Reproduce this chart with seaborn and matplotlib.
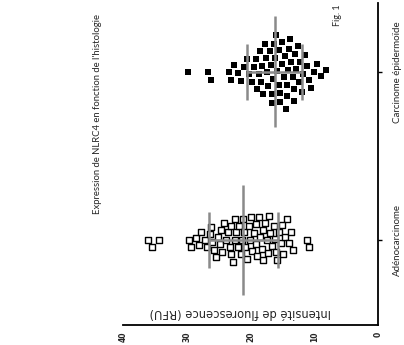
import pandas as pd
import matplotlib.pyplot as plt
import seaborn as sns
import numpy as np

categories = ['Carcinome épidermoïde', 'Adénocarcinome']
adeno = [36.1, 35.5, 34.3,
         29.6, 29.3, 28.5, 28.1, 27.7, 27.2, 26.8, 26.4, 26.0, 25.7,
         25.4, 25.1, 24.8, 24.4, 24.1, 23.8, 23.5, 23.2, 23.0, 22.8,
         22.5, 22.2, 22.0, 21.8, 21.5, 21.3, 21.0, 20.8, 20.6, 20.3,
         20.0, 19.8, 19.5, 19.2, 19.0, 18.7, 18.5, 18.2, 18.0, 17.7,
         17.4, 17.2, 16.9, 16.6, 16.3, 16.0, 15.8, 15.5, 15.2, 14.9,
         14.6, 14.3, 14.0, 13.7, 13.3, 11.2, 10.8,
         26.2, 24.6, 23.1, 22.4, 21.1, 20.1, 19.1, 18.1, 17.1, 16.1, 15.1]
carcinome = [29.8, 26.6, 26.2, 23.4, 23.0, 22.6, 22.0, 21.5, 21.0, 20.6,
             20.2, 19.8, 19.5, 19.2, 19.0, 18.7, 18.5, 18.3, 18.0, 17.8,
             17.6, 17.4, 17.2, 17.0, 16.8, 16.6, 16.5, 16.3, 16.1, 16.0,
             15.8, 15.6, 15.5, 15.3, 15.1, 15.0, 14.8, 14.6, 14.5, 14.3,
             14.1, 14.0, 13.8, 13.6, 13.4, 13.2, 13.0, 12.8, 12.6, 12.4,
             12.2, 12.0, 11.7, 11.4, 11.1, 10.8, 10.5, 10.1, 9.6, 9.0, 8.2,
             18.2, 16.7, 15.4, 14.2, 13.1]
value_ticks = [0, 10, 20, 30, 40]

df = pd.DataFrame({'histo': [categories[1]] * len(adeno) + [categories[0]] * len(carcinome),
                   'rfu': adeno + carcinome})

sns.set_style('white')
plt.rcParams['font.family'] = ['Lato', 'DejaVu Sans']

fig = plt.figure(figsize=(4.04, 3.45), dpi=100)
ax = fig.add_axes([123 / 404, 20 / 345, 255 / 404, 322 / 345])

sns.swarmplot(data=df[df.histo == categories[1]], x='rfu', y='histo', order=categories,
              orient='h', marker='s', size=4.3, color='white', edgecolor='black',
              linewidth=1, ax=ax)
sns.swarmplot(data=df[df.histo == categories[0]], x='rfu', y='histo', order=categories,
              orient='h', marker='s', size=5.9, color='black', ax=ax)

ax.set_xlim(40, 0)
ax.set_ylim(1.506, -0.41)

# lay the swarm out with the bigger markers, freeze it, then shrink the squares
fig.canvas.draw()
for coll in ax.collections:
    if 'draw' in coll.__dict__:
        del coll.draw
    coll.set_sizes([13])

# mean +/- SD, drawn like the original
stats = df.groupby('histo')['rfu'].agg(['mean', 'std'])
for i, cat in enumerate(categories):
    m, s = stats.loc[cat, 'mean'], stats.loc[cat, 'std']
    ax.vlines(m, i - 0.33, i + 0.33, color='#8a8a8a', lw=1.8, zorder=3)
    ax.vlines([m - s, m + s], i - 0.165, i + 0.165, color='#8a8a8a', lw=1.8, zorder=3)
    ax.hlines(i, m - s, m + s, color='#8a8a8a', lw=1.8, zorder=3)

ax.set_xticks(value_ticks)
ax.set_xticklabels(value_ticks, rotation=90, fontsize=5.5, fontweight='bold', family='DejaVu Sans')
ax.yaxis.tick_right()
ax.set_yticks([0, 1])
ax.set_yticklabels(categories, rotation=90, va='center', fontsize=7)
ax.tick_params(axis='both', direction='out', length=3, width=1, color='black', pad=2)
ax.tick_params(axis='y', pad=8)
ax.set_xlabel('')
ax.set_ylabel('')
for side in ['left', 'top']:
    ax.spines[side].set_visible(False)
for side in ['right', 'bottom']:
    ax.spines[side].set_color('black')
    ax.spines[side].set_linewidth(1.3)

fig.text(97 / 404, 1 - 114 / 345, "Expression de NLRC4 en fonction de l'histologie",
         rotation=90, ha='center', va='center', fontsize=6.8)
fig.text(338 / 404, 1 - 15 / 345, 'Fig. 1', rotation=90, ha='center', va='center', fontsize=6.5)
fig.text(240 / 404, 1 - 313 / 345, 'Intensité de fluorescence (RFU)', rotation=180,
         ha='center', va='center', fontsize=8.3, family='DejaVu Sans')

fig.savefig('out.png', dpi=100)
